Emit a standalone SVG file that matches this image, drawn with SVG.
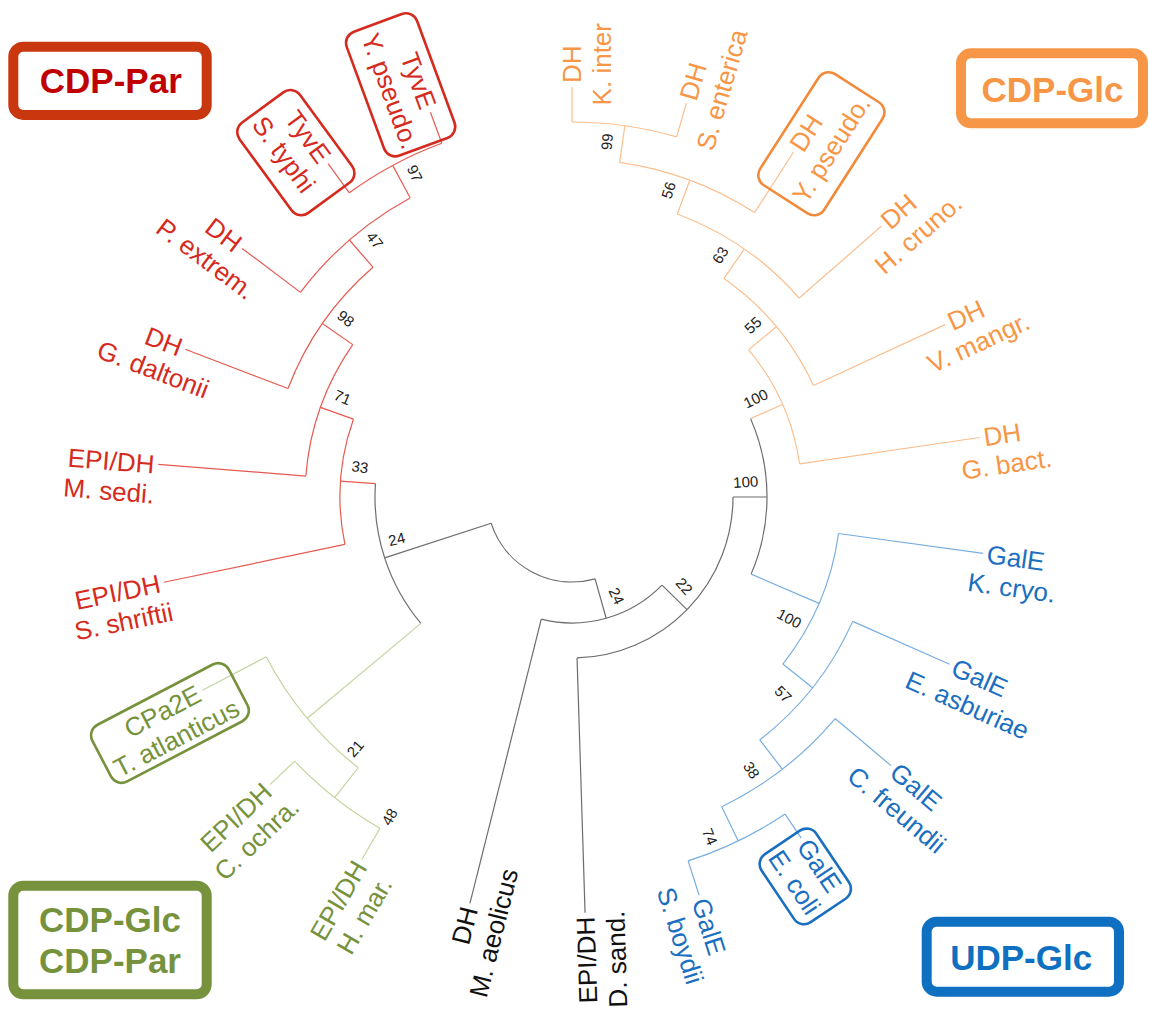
<svg xmlns="http://www.w3.org/2000/svg" width="1149" height="1011" viewBox="0 0 1149 1011">
<style>
.br{fill:none;stroke-width:1.2}
.g{stroke:#6d6d6d}.r{stroke:#E65A50}.o{stroke:#FBBF8F}.b{stroke:#79AEE0}.gr{stroke:#C3D59F}
text{font-family:"Liberation Sans",Arial,sans-serif}
.lab text{font-size:26px;text-anchor:middle}
.lr text{fill:#D52B1E}.lo text{fill:#F79646}.lb text{fill:#1B6FC0}.lg text{fill:#76923C}.lk text{fill:#111}
.box{fill:none;stroke-width:2.6}
.bs{font-size:15px;fill:#222;text-anchor:middle;dominant-baseline:central}
.big{fill:none;stroke-width:10}
.bigt{font-size:35px;font-weight:bold;text-anchor:middle}
</style>
<rect width="1149" height="1011" fill="#fff"/>
<g id="connectors" transform="translate(572 497)">
 <g id="root-branches">
  <circle class="br g" r="85" pathLength="360" stroke-dasharray="87.75 400" transform="rotate(74.25)"/>
  <line class="br g" x1="85" x2="197" transform="rotate(162)"/>
  <line class="br g" x1="85" x2="126" transform="rotate(74.25)"/>
  <circle class="br g" r="126" pathLength="360" stroke-dasharray="59.7 400" transform="rotate(44.4)"/>
  <line class="br g" x1="126" x2="419" transform="rotate(104.1)"/>
  <line class="br g" x1="126" x2="161" transform="rotate(44.4)"/>
  <circle class="br g" r="161" pathLength="360" stroke-dasharray="88.2 400" transform="rotate(0)"/>
  <line class="br g" x1="161" x2="416" transform="rotate(88.2)"/>
  <line class="br g" x1="161" x2="195" transform="rotate(0)"/>
  <circle class="br g" r="195" pathLength="360" stroke-dasharray="47 400" transform="rotate(-23.7)"/>
  <circle class="br g" r="197" pathLength="360" stroke-dasharray="43.8 400" transform="rotate(140.1)"/>
 </g>
 <g id="red-branches">
  <line class="br r" x1="197" x2="232" transform="rotate(183.9)"/>
  <circle class="br r" r="232" pathLength="360" stroke-dasharray="31.4 400" transform="rotate(168.2)"/>
  <line class="br r" x1="232" x2="417" transform="rotate(168.2)"/>
  <line class="br r" x1="232" x2="267" transform="rotate(199.6)"/>
  <circle class="br r" r="267" pathLength="360" stroke-dasharray="30.3 400" transform="rotate(184.5)"/>
  <line class="br r" x1="267" x2="415" transform="rotate(184.5)"/>
  <line class="br r" x1="267" x2="304" transform="rotate(214.8)"/>
  <circle class="br r" r="304" pathLength="360" stroke-dasharray="28.2 400" transform="rotate(200.9)"/>
  <line class="br r" x1="304" x2="414" transform="rotate(200.9)"/>
  <line class="br r" x1="304" x2="340" transform="rotate(229.1)"/>
  <circle class="br r" r="340" pathLength="360" stroke-dasharray="24.5 400" transform="rotate(217)"/>
  <line class="br r" x1="340" x2="413" transform="rotate(217)"/>
  <line class="br r" x1="340" x2="377" transform="rotate(241.6)"/>
  <circle class="br r" r="377" pathLength="360" stroke-dasharray="16 400" transform="rotate(233.8)"/>
  <line class="br r" x1="377" x2="413" transform="rotate(233.8)"/>
  <line class="br r" x1="377" x2="410" transform="rotate(249.8)"/>
 </g>
 <g id="orange-branches">
  <line class="br o" x1="195" x2="230" transform="rotate(-23.7)"/>
  <circle class="br o" r="230" pathLength="360" stroke-dasharray="31.5 400" transform="rotate(-39.8)"/>
  <line class="br o" x1="230" x2="412" transform="rotate(-8.3)"/>
  <line class="br o" x1="230" x2="266" transform="rotate(-39.8)"/>
  <circle class="br o" r="266" pathLength="360" stroke-dasharray="30.4 400" transform="rotate(-55.2)"/>
  <line class="br o" x1="266" x2="411" transform="rotate(-24.8)"/>
  <line class="br o" x1="266" x2="302" transform="rotate(-55.2)"/>
  <circle class="br o" r="302" pathLength="360" stroke-dasharray="28.4 400" transform="rotate(-69.6)"/>
  <line class="br o" x1="302" x2="411" transform="rotate(-41.2)"/>
  <line class="br o" x1="302" x2="338" transform="rotate(-69.6)"/>
  <circle class="br o" r="338" pathLength="360" stroke-dasharray="24.6 400" transform="rotate(-81.9)"/>
  <line class="br o" x1="338" x2="410" transform="rotate(-57.3)"/>
  <line class="br o" x1="338" x2="375" transform="rotate(-81.9)"/>
  <circle class="br o" r="375" pathLength="360" stroke-dasharray="16.2 400" transform="rotate(-90)"/>
  <line class="br o" x1="375" x2="410" transform="rotate(-90)"/>
  <line class="br o" x1="375" x2="410" transform="rotate(-73.8)"/>
 </g>
 <g id="blue-branches">
  <line class="br b" x1="195" x2="269" transform="rotate(23.3)"/>
  <circle class="br b" r="269" pathLength="360" stroke-dasharray="30.6 400" transform="rotate(7.8)"/>
  <line class="br b" x1="269" x2="415" transform="rotate(7.8)"/>
  <line class="br b" x1="269" x2="307" transform="rotate(38.4)"/>
  <circle class="br b" r="307" pathLength="360" stroke-dasharray="28.4 400" transform="rotate(23.9)"/>
  <line class="br b" x1="307" x2="413" transform="rotate(23.9)"/>
  <line class="br b" x1="307" x2="344" transform="rotate(52.3)"/>
  <circle class="br b" r="344" pathLength="360" stroke-dasharray="24.1 400" transform="rotate(40.1)"/>
  <line class="br b" x1="344" x2="417" transform="rotate(40.1)"/>
  <line class="br b" x1="344" x2="382" transform="rotate(64.2)"/>
  <circle class="br b" r="382" pathLength="360" stroke-dasharray="16.2 400" transform="rotate(56.1)"/>
  <line class="br b" x1="382" x2="411" transform="rotate(56.1)"/>
  <line class="br b" x1="382" x2="418" transform="rotate(72.3)"/>
 </g>
 <g id="green-branches">
  <line class="br gr" x1="197" x2="345" transform="rotate(140.1)"/>
  <circle class="br gr" r="345" pathLength="360" stroke-dasharray="24.1 400" transform="rotate(128.3)"/>
  <line class="br gr" x1="345" x2="417" transform="rotate(152.4)"/>
  <line class="br gr" x1="345" x2="383" transform="rotate(128.3)"/>
  <circle class="br gr" r="383" pathLength="360" stroke-dasharray="16.3 400" transform="rotate(120.1)"/>
  <line class="br gr" x1="383" x2="417" transform="rotate(136.4)"/>
  <line class="br gr" x1="383" x2="419" transform="rotate(120.1)"/>
 </g>
</g>
<g id="bootstrap">
 <text class="bs" transform="translate(415 173.3) rotate(64)">97</text>
 <text class="bs" transform="translate(375 240) rotate(52)">47</text>
 <text class="bs" transform="translate(346 318.3) rotate(38)">98</text>
 <text class="bs" transform="translate(342.7 397.3) rotate(23)">71</text>
 <text class="bs" transform="translate(360 466.7) rotate(8)">33</text>
 <text class="bs" transform="translate(396.7 539) rotate(-13.5)">24</text>
 <text class="bs" transform="translate(355 748.3) rotate(-49)">21</text>
 <text class="bs" transform="translate(389.3 816.7) rotate(-60)">48</text>
 <text class="bs" transform="translate(616.7 596) rotate(65)">24</text>
 <text class="bs" transform="translate(684.3 586) rotate(48)">22</text>
 <text class="bs" transform="translate(745.7 481.7) rotate(-4)">100</text>
 <text class="bs" transform="translate(755.7 398.3) rotate(-26)">100</text>
 <text class="bs" transform="translate(752.7 325) rotate(-42)">55</text>
 <text class="bs" transform="translate(720 255) rotate(-58)">63</text>
 <text class="bs" transform="translate(668.3 190) rotate(-72)">56</text>
 <text class="bs" transform="translate(606.7 141.7) rotate(-85)">99</text>
 <text class="bs" transform="translate(789.3 618.3) rotate(28)">100</text>
 <text class="bs" transform="translate(783.3 694) rotate(45)">57</text>
 <text class="bs" transform="translate(751.7 770) rotate(57)">38</text>
 <text class="bs" transform="translate(710 836.7) rotate(68)">74</text>
</g>
<!-- red clade leaves -->
<g id="leaf-tyve-ypseudo" class="lab lr" transform="translate(572 497) rotate(249.8) translate(410 0) rotate(180)">
 <rect class="box" x="-102" y="-19" width="132" height="75" rx="12" stroke="#D52B1E"/>
 <text x="-33.6" y="9.3">TyvE</text><text x="-33.6" y="39.3">Y. pseudo.</text>
</g>
<g id="leaf-tyve-styphi" class="lab lr" transform="translate(572 497) rotate(233.8) translate(413 0) rotate(180)">
 <rect class="box" x="-84" y="-18" width="112" height="75" rx="12" stroke="#D52B1E"/>
 <text x="-33.6" y="9.3">TyvE</text><text x="-33.6" y="39.3">S. typhi</text>
</g>
<g id="leaf-pextrem" class="lab lr" transform="translate(572 497) rotate(217) translate(413 0) rotate(180)">
 <text x="-22.8" y="9.3">DH</text><text x="-22.8" y="39.3">P. extrem.</text>
</g>
<g id="leaf-gdaltonii" class="lab lr" transform="translate(572 497) rotate(200.9) translate(414 0) rotate(180)">
 <text x="-22.8" y="9.3">DH</text><text x="-22.8" y="39.3">G. daltonii</text>
</g>
<g id="leaf-msedi" class="lab lr" transform="translate(572 497) rotate(184.5) translate(415 0) rotate(180)">
 <text x="-47.3" y="9.3">EPI/DH</text><text x="-47.3" y="39.3">M. sedi.</text>
</g>
<g id="leaf-sshriftii" class="lab lr" transform="translate(572 497) rotate(168.2) translate(417 0) rotate(180)">
 <text x="-47.3" y="9.3">EPI/DH</text><text x="-47.3" y="39.3">S. shriftii</text>
</g>
<!-- green clade leaves -->
<g id="leaf-tatlanticus" class="lab lg" transform="translate(572 497) rotate(152.4) translate(417 0) rotate(180)">
 <rect class="box" x="-121" y="-18" width="154" height="64" rx="12" stroke="#76923C"/>
 <text x="-45.2" y="9.3">CPa2E</text><text x="-45.2" y="39.3">T. atlanticus</text>
</g>
<g id="leaf-cochra" class="lab lg" transform="translate(572 497) rotate(136.4) translate(417 0) rotate(180)">
 <text x="-47.3" y="9.3">EPI/DH</text><text x="-47.3" y="39.3">C. ochra.</text>
</g>
<g id="leaf-hmar" class="lab lg" transform="translate(572 497) rotate(120.1) translate(419 0) rotate(180)">
 <text x="-47.3" y="9.3">EPI/DH</text><text x="-47.3" y="39.3">H. mar.</text>
</g>
<!-- black leaves -->
<g id="leaf-maeolicus" class="lab lk" transform="translate(572 497) rotate(104.1) translate(419 0) rotate(180)">
 <text x="-22.8" y="9.3">DH</text><text x="-22.8" y="39.3">M. aeolicus</text>
</g>
<g id="leaf-dsand" class="lab lk" transform="translate(572 497) rotate(88.2) translate(416 0) rotate(180)">
 <text x="-47.3" y="9.3">EPI/DH</text><text x="-47.3" y="39.3">D. sand.</text>
</g>
<!-- blue clade leaves -->
<g id="leaf-sboydii" class="lab lb" transform="translate(572 497) rotate(72.3) translate(418 0)">
 <text x="32.9" y="9.3">GalE</text><text x="32.9" y="39.3">S. boydii</text>
</g>
<g id="leaf-ecoli" class="lab lb" transform="translate(572 497) rotate(56.1) translate(411 0)">
 <rect class="box" x="-7" y="-15" width="82" height="66" rx="12" stroke="#1B6FC0"/>
 <text x="32.9" y="9.3">GalE</text><text x="32.9" y="39.3">E. coli</text>
</g>
<g id="leaf-cfreundii" class="lab lb" transform="translate(572 497) rotate(40.1) translate(417 0)">
 <text x="32.9" y="9.3">GalE</text><text x="32.9" y="39.3">C. freundii</text>
</g>
<g id="leaf-easburiae" class="lab lb" transform="translate(572 497) rotate(23.9) translate(413 0)">
 <text x="32.9" y="9.3">GalE</text><text x="32.9" y="39.3">E. asburiae</text>
</g>
<g id="leaf-kcryo" class="lab lb" transform="translate(572 497) rotate(7.8) translate(415 0)">
 <text x="32.9" y="9.3">GalE</text><text x="32.9" y="39.3">K. cryo.</text>
</g>
<!-- orange clade leaves -->
<g id="leaf-gbact" class="lab lo" transform="translate(572 497) rotate(-8.3) translate(412 0)">
 <text x="22.8" y="9.3">DH</text><text x="22.8" y="39.3">G. bact.</text>
</g>
<g id="leaf-vmangr" class="lab lo" transform="translate(572 497) rotate(-24.8) translate(411 0)">
 <text x="22.8" y="9.3">DH</text><text x="22.8" y="39.3">V. mangr.</text>
</g>
<g id="leaf-hcruno" class="lab lo" transform="translate(572 497) rotate(-41.2) translate(411 0)">
 <text x="22.8" y="9.3">DH</text><text x="22.8" y="39.3">H. cruno.</text>
</g>
<g id="leaf-dh-ypseudo" class="lab lo" transform="translate(572 497) rotate(-57.3) translate(410 0)">
 <rect class="box" x="-44" y="-19" width="132" height="76" rx="12" stroke="#F28A3C"/>
 <text x="22.8" y="9.3">DH</text><text x="22.8" y="39.3">Y. pseudo.</text>
</g>
<g id="leaf-senterica" class="lab lo" transform="translate(572 497) rotate(-73.8) translate(410 0)">
 <text x="22.8" y="9.3">DH</text><text x="22.8" y="39.3">S. enterica</text>
</g>
<g id="leaf-kinter" class="lab lo" transform="translate(572 497) rotate(-90) translate(410 0)">
 <text x="22.8" y="9.3">DH</text><text x="22.8" y="39.3">K. inter</text>
</g>
<!-- legend boxes -->
<g id="legend-cdp-par">
 <rect class="big" x="13.3" y="46.7" width="193.4" height="68.3" rx="10" stroke="#C9370F"/>
 <text class="bigt" x="110.8" y="93.3" fill="#C00000">CDP-Par</text>
</g>
<g id="legend-cdp-glc">
 <rect class="big" x="961" y="53.3" width="182" height="70" rx="10" stroke="#F79646"/>
 <text class="bigt" x="1052.5" y="101.7" fill="#F79646">CDP-Glc</text>
</g>
<g id="legend-udp-glc">
 <rect class="big" x="926.7" y="921.7" width="192.3" height="70" rx="10" stroke="#0F6FC0"/>
 <text class="bigt" x="1021.2" y="970" fill="#0F6FC0">UDP-Glc</text>
</g>
<g id="legend-cdp-glc-par">
 <rect class="big" x="13.3" y="885.7" width="193.4" height="108.6" rx="10" stroke="#76923C"/>
 <text class="bigt" x="110" y="931.7" fill="#76923C">CDP-Glc</text>
 <text class="bigt" x="110" y="973.3" fill="#76923C">CDP-Par</text>
</g>
</svg>
